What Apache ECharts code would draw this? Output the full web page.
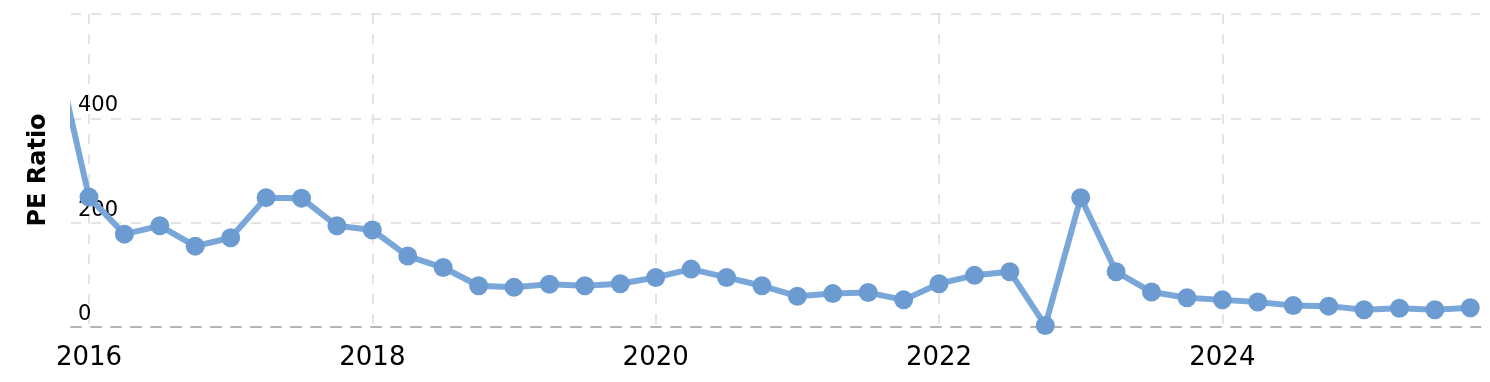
<!DOCTYPE html>
<html>
<head>
<meta charset="utf-8">
<script src="https://cdn.jsdelivr.net/npm/echarts@6/dist/echarts.min.js"></script>
<style>html,body{margin:0;padding:0;background:#fff;}#c{width:1490px;height:382px;}</style>
</head>
<body>
<div id="c"></div>
<script>
// Quarter positions as decimal years
const quarters = [2015.75, 2016.0, 2016.25, 2016.5, 2016.75, 2017.0, 2017.25, 2017.5, 2017.75,
  2018.0, 2018.25, 2018.5, 2018.75, 2019.0, 2019.25, 2019.5, 2019.75,
  2020.0, 2020.25, 2020.5, 2020.75, 2021.0, 2021.25, 2021.5, 2021.75,
  2022.0, 2022.25, 2022.5, 2022.75, 2023.0, 2023.25, 2023.5, 2023.75,
  2024.0, 2024.25, 2024.5, 2024.75, 2025.0, 2025.25, 2025.5, 2025.75];
const peRatio = [548, 249, 178, 194, 155, 171, 248, 247, 194,
  186, 136, 114, 79, 76, 82, 79, 83,
  95, 111, 95, 79, 59, 64, 66, 52,
  83, 99, 106, 3, 248, 106, 67, 56,
  52, 48, 41, 40, 33, 36, 33, 37];
const yTicks = [0, 200, 400];
const xTickYears = [2016, 2018, 2020, 2022, 2024];
const yTitle = 'PE Ratio';

const chart = echarts.init(document.getElementById('c'), null, {renderer: 'canvas'});
const font = '"DejaVu Sans", Verdana, sans-serif';
chart.setOption({
  animation: false,
  grid: {left: 71, right: 9.5, top: 14, bottom: 55, containLabel: false},
  graphic: [
    {type: 'rect', z: 50, shape: {x: 56, y: 0, width: 14, height: 200}, style: {fill: '#fff'}, silent: true},
    {type: 'text', z: 60, x: 39, y: 170, rotation: Math.PI / 2, silent: true,
      style: {text: yTitle, font: 'bold 24px ' + font, fill: '#000', align: 'center', verticalAlign: 'middle'}}
  ],
  xAxis: {
    type: 'value',
    min: 2015.873,
    max: 2025.822,
    splitNumber: 5,
    axisLine: {show: true, lineStyle: {color: '#b4b4b4', width: 2, type: [10, 10]}},
    axisTick: {show: false},
    axisLabel: {
      showMinLabel: false, showMaxLabel: false,
      margin: 18,
      fontSize: 26, fontFamily: font, color: '#000',
      formatter: v => xTickYears.indexOf(Math.round(v * 1000) / 1000) >= 0 ? String(Math.round(v)) : ''
    },
    splitLine: {show: true, showMinLine: false, showMaxLine: false,
      lineStyle: {color: '#e4e4e4', width: 2, type: [10, 10]}}
  },
  yAxis: {
    type: 'value',
    min: 0, max: 600, interval: 200,
    axisLine: {show: false},
    axisTick: {show: false},
    axisLabel: {
      inside: true, margin: 7, verticalAlign: 'bottom', padding: [0, 0, 2, 0],
      fontSize: 21, fontFamily: font, color: '#000',
      formatter: v => yTicks.indexOf(v) >= 0 ? String(v) : ''
    },
    splitLine: {show: true, showMinLine: false,
      lineStyle: {color: '#e4e4e4', width: 2, type: [10, 10]}}
  },
  series: [{
    type: 'line',
    data: quarters.map((q, i) => [q, peRatio[i]]),
    clip: true,
    symbol: 'circle',
    symbolSize: 19,
    showAllSymbol: true,
    itemStyle: {color: '#6b9bd1'},
    lineStyle: {color: '#7aa7da', width: 6}
  }]
});
</script>
</body>
</html>
